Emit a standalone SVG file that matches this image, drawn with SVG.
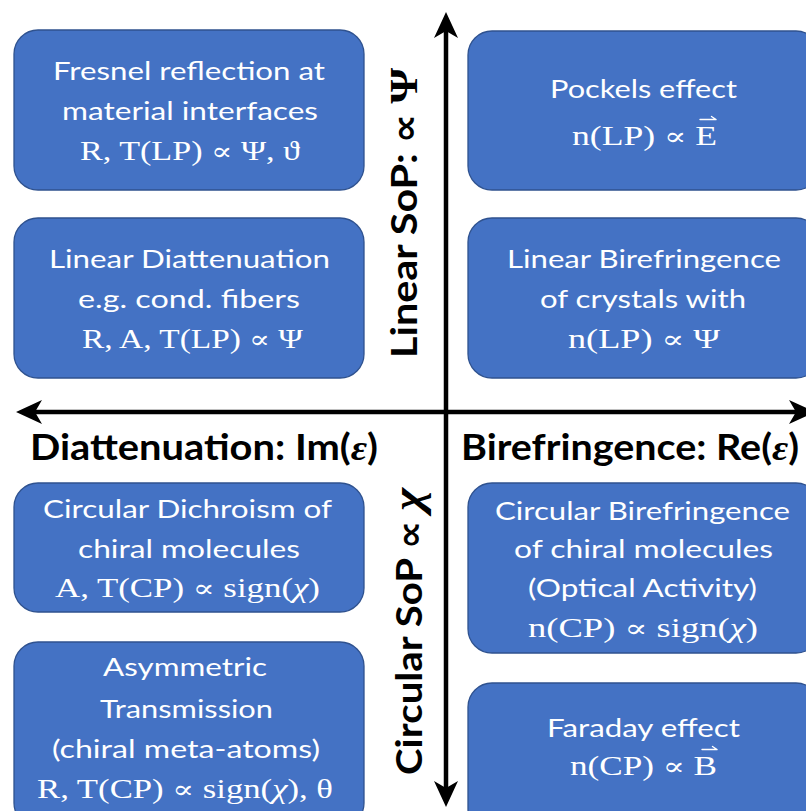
<svg xmlns="http://www.w3.org/2000/svg" width="806" height="811" viewBox="0 0 806 811">
  <style>
    .box { fill: #4472C4; stroke: #2F528F; stroke-width: 1.3; }
    .t { font-family: "Lato", "Liberation Sans", sans-serif; font-size: 25px; fill: #FFFFFF; text-anchor: middle; }
    .m { font-family: "Liberation Serif", "DejaVu Serif", serif; font-size: 27px; fill: #FFFFFF; text-anchor: middle; }
    .p { font-family: "DejaVu Serif", serif; font-size: 25px; }
    .i { font-style: italic; }
    .vec { stroke: #FFFFFF; stroke-width: 1.4; fill: none; stroke-linecap: round; }
    .axis { stroke: #000000; stroke-width: 4.5; fill: none; }
    .lbl { font-family: "Lato", "Liberation Sans", sans-serif; font-size: 36px; font-weight: 700; fill: #000000; }
    .sym { font-family: "DejaVu Sans", sans-serif; font-weight: 700; }
    .grk { font-family: "Liberation Serif", "DejaVu Serif", serif; }
  </style>
  <defs>
    <marker id="head" markerUnits="userSpaceOnUse" viewBox="-20 -15 32 30" markerWidth="32" markerHeight="30" refX="0" refY="0" orient="auto-start-reverse">
      <path d="M10,0 L-16,-12 L-9,0 L-16,12 Z" fill="#000000"/>
    </marker>
  </defs>

  <rect width="806" height="811" fill="#FFFFFF"/>

  <!-- axes -->
  <g id="connectors">
    <line class="axis" x1="446" y1="22" x2="446" y2="797" marker-start="url(#head)" marker-end="url(#head)"/>
    <line class="axis" x1="26" y1="412" x2="805" y2="412" marker-start="url(#head)" marker-end="url(#head)"/>
  </g>

  <!-- axis labels -->
  <g id="axis-labels">
    <text class="lbl" x="30" y="460" textLength="348" lengthAdjust="spacingAndGlyphs">Diattenuation: Im(<tspan class="grk i">ε</tspan>)</text>
    <text class="lbl" x="461" y="460" textLength="338" lengthAdjust="spacingAndGlyphs">Birefringence: Re(<tspan class="grk i">ε</tspan>)</text>
    <text class="lbl" transform="translate(417,358) rotate(-90)" x="0" y="0" textLength="290" lengthAdjust="spacingAndGlyphs">Linear SoP: <tspan class="sym">∝</tspan> <tspan class="grk" font-size="40">Ψ</tspan></text>
    <text class="lbl" transform="translate(422,775) rotate(-90)" x="0" y="0" textLength="287" lengthAdjust="spacingAndGlyphs">Circular SoP <tspan class="sym">∝</tspan> <tspan class="grk i" font-size="44">χ</tspan></text>
  </g>

  <!-- linear diattenuation / birefringence quadrant nodes -->
  <g id="fresnel">
    <rect class="box" x="14" y="30" width="350" height="160" rx="24"/>
    <text class="t" x="189" y="80" textLength="272" lengthAdjust="spacingAndGlyphs">Fresnel reflection at</text>
    <text class="t" x="190" y="120" textLength="256" lengthAdjust="spacingAndGlyphs">material interfaces</text>
    <text class="m" x="190" y="160" textLength="220" lengthAdjust="spacingAndGlyphs">R, T(LP) <tspan class="p">∝</tspan> Ψ, ϑ</text>
  </g>

  <g id="pockels">
    <rect class="box" x="468" y="31" width="352" height="159" rx="24"/>
    <text class="t" x="643.5" y="98" textLength="187" lengthAdjust="spacingAndGlyphs">Pockels effect</text>
    <text class="m" x="644.5" y="145" textLength="145" lengthAdjust="spacingAndGlyphs">n(LP) <tspan class="p">∝</tspan> E</text>
    <path class="vec" d="M700,119.5 H716 M711.5,116.5 L716,119.5"/>
  </g>

  <g id="linear-diattenuation">
    <rect class="box" x="14" y="218" width="350" height="160" rx="24"/>
    <text class="t" x="189.5" y="268" textLength="281" lengthAdjust="spacingAndGlyphs">Linear Diattenuation</text>
    <text class="t" x="189" y="308" textLength="222" lengthAdjust="spacingAndGlyphs">e.g. cond. fibers</text>
    <text class="m" x="192.5" y="348" textLength="221" lengthAdjust="spacingAndGlyphs">R, A, T(LP) <tspan class="p">∝</tspan> Ψ</text>
  </g>

  <g id="linear-birefringence">
    <rect class="box" x="468" y="218" width="352" height="160" rx="24"/>
    <text class="t" x="644" y="268" textLength="274" lengthAdjust="spacingAndGlyphs">Linear Birefringence</text>
    <text class="t" x="643" y="308" textLength="206" lengthAdjust="spacingAndGlyphs">of crystals with</text>
    <text class="m" x="644" y="348" textLength="152" lengthAdjust="spacingAndGlyphs">n(LP) <tspan class="p">∝</tspan> Ψ</text>
  </g>

  <!-- circular diattenuation / birefringence quadrant nodes -->
  <g id="circular-dichroism">
    <rect class="box" x="14" y="483" width="350" height="129" rx="24"/>
    <text class="t" x="187.5" y="518" textLength="289" lengthAdjust="spacingAndGlyphs">Circular Dichroism of</text>
    <text class="t" x="189" y="558" textLength="222" lengthAdjust="spacingAndGlyphs">chiral molecules</text>
    <text class="m" x="187.5" y="597" textLength="265" lengthAdjust="spacingAndGlyphs">A, T(CP) <tspan class="p">∝</tspan> sign(<tspan class="i">χ</tspan>)</text>
  </g>

  <g id="circular-birefringence">
    <rect class="box" x="468" y="483" width="352" height="170" rx="24"/>
    <text class="t" x="642.5" y="520" textLength="295" lengthAdjust="spacingAndGlyphs">Circular Birefringence</text>
    <text class="t" x="643.5" y="558" textLength="259" lengthAdjust="spacingAndGlyphs">of chiral molecules</text>
    <text class="t" x="642.5" y="597" textLength="229" lengthAdjust="spacingAndGlyphs">(Optical Activity)</text>
    <text class="m" x="643" y="637" textLength="230" lengthAdjust="spacingAndGlyphs">n(CP) <tspan class="p">∝</tspan> sign(<tspan class="i">χ</tspan>)</text>
  </g>

  <g id="asymmetric-transmission">
    <rect class="box" x="14" y="642" width="350" height="185" rx="24"/>
    <text class="t" x="185" y="676" textLength="164" lengthAdjust="spacingAndGlyphs">Asymmetric</text>
    <text class="t" x="186.5" y="718" textLength="173" lengthAdjust="spacingAndGlyphs">Transmission</text>
    <text class="t" x="186" y="758" textLength="268" lengthAdjust="spacingAndGlyphs">(chiral meta-atoms)</text>
    <text class="m" x="185" y="798" textLength="296" lengthAdjust="spacingAndGlyphs">R, T(CP) <tspan class="p">∝</tspan> sign(<tspan class="i">χ</tspan>), θ</text>
  </g>

  <g id="faraday">
    <rect class="box" x="468" y="683" width="352" height="150" rx="24"/>
    <text class="t" x="643.5" y="737" textLength="193" lengthAdjust="spacingAndGlyphs">Faraday effect</text>
    <text class="m" x="643.5" y="775" textLength="147" lengthAdjust="spacingAndGlyphs">n(CP) <tspan class="p">∝</tspan> B</text>
    <path class="vec" d="M702,749.5 H717 M712.5,746.5 L717,749.5"/>
  </g>
</svg>
